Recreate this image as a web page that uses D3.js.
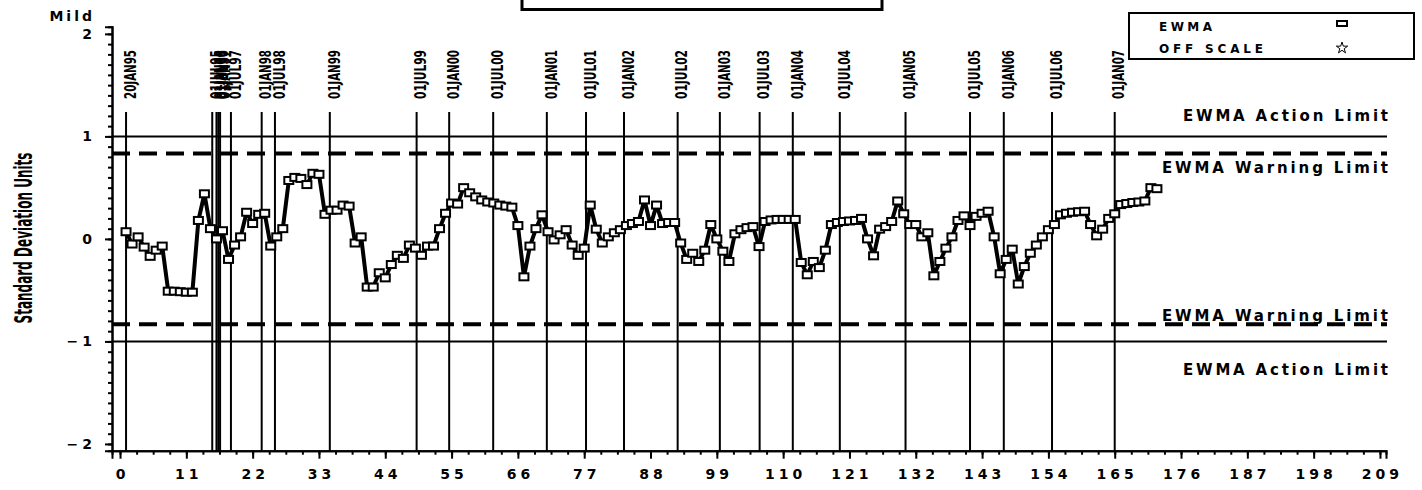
<!DOCTYPE html>
<meta charset="utf-8">
<style>
body { margin: 0; background: #fff; }
svg text { fill: #000; }
.tick text, .lab { font-family: "DejaVu Sans", sans-serif; font-weight: bold; }
.date { font-family: "Liberation Sans Narrow", "DejaVu Sans Condensed", sans-serif; font-weight: bold; }
.axis path, .axis line { stroke: #000; stroke-width: 2px; }
</style>
<body>
<script src="https://cdn.jsdelivr.net/npm/d3@7"></script>
<script>
// EWMA values, one per observation (obs 1..172)
var ewma = [
  0.07, -0.05, 0.02, -0.08, -0.17, -0.11, -0.07, -0.51, -0.51, -0.515,
  -0.52, -0.52, 0.18, 0.44, 0.10, 0.00, 0.08, -0.20, -0.06, 0.02,
  0.26, 0.15, 0.24, 0.25, -0.07, 0.02, 0.10, 0.57, 0.60, 0.59,
  0.53, 0.64, 0.63, 0.24, 0.28, 0.28, 0.33, 0.32, -0.04, 0.02,
  -0.47, -0.47, -0.33, -0.38, -0.25, -0.16, -0.19, -0.06, -0.09, -0.16,
  -0.07, -0.07, 0.10, 0.25, 0.35, 0.34, 0.50, 0.45, 0.41, 0.38,
  0.36, 0.35, 0.33, 0.32, 0.31, 0.13, -0.37, -0.07, 0.10, 0.235,
  0.07, -0.01, 0.04, 0.09, -0.06, -0.16, -0.09, 0.33, 0.095, -0.04,
  0.02, 0.06, 0.09, 0.13, 0.15, 0.17, 0.38, 0.13, 0.33, 0.15,
  0.16, 0.16, -0.04, -0.20, -0.14, -0.22, -0.11, 0.14, 0.00, -0.12,
  -0.22, 0.05, 0.09, 0.11, 0.12, -0.075, 0.17, 0.185, 0.19, 0.19,
  0.19, 0.19, -0.23, -0.35, -0.22, -0.28, -0.11, 0.14, 0.16, 0.17,
  0.175, 0.18, 0.20, 0.00, -0.165, 0.095, 0.12, 0.17, 0.37, 0.245,
  0.14, 0.14, 0.02, 0.06, -0.36, -0.22, -0.09, 0.02, 0.18, 0.225,
  0.13, 0.22, 0.25, 0.27, 0.02, -0.34, -0.20, -0.10, -0.44, -0.27,
  -0.14, -0.06, 0.02, 0.09, 0.14, 0.235, 0.25, 0.26, 0.265, 0.27,
  0.14, 0.03, 0.095, 0.20, 0.245, 0.335, 0.345, 0.355, 0.36, 0.37,
  0.50, 0.49
];

// date reference lines (position on observation axis) and their labels
var datePos = [1, 15.3, 16.0, 16.3, 16.6, 18.4, 23.5, 25.7, 34.8, 49.2, 54.6, 61.9,
  70.8, 77.3, 83.6, 92.5, 99.5, 106.1, 111.6, 119.4, 130.3, 141, 146.6, 154.6, 165];
var dateLab = ["20JAN95", "01JUL95", "01JAN96", "01JUL96", "01JAN97", "01JUL97",
  "01JAN98", "01JUL98", "01JAN99", "01JUL99", "01JAN00", "01JUL00", "01JAN01",
  "01JUL01", "01JAN02", "01JUL02", "01JAN03", "01JUL03", "01JAN04", "01JUL04",
  "01JAN05", "01JUL05", "01JAN06", "01JUL06", "01JAN07"];

// control limits
var actionLimit = 1, warningLimit = 0.833;

var xTicks = d3.range(0, 210, 11);
var xMinor = d3.range(0, 210, 2.75);
var yTicks = [-2, -1, 0, 1, 2];
var yMinor = d3.range(-20, 21).map(function(d) { return d / 10; });

var W = 1422, H = 490;
var svg = d3.select("body").append("svg")
    .attr("width", W).attr("height", H);

var x = d3.scaleLinear().domain([-1.33, 210]).range([112, 1386]);
var y = d3.scaleLinear().domain([-2.066, 2.07]).range([450.7, 26.7]);

// title box (clipped at top)
svg.append("rect")
    .attr("x", 522).attr("y", -10).attr("width", 360).attr("height", 19.5)
    .attr("fill", "none").attr("stroke", "#000").attr("stroke-width", 3);

// vertical date lines
svg.selectAll(".dline").data(datePos).enter().append("line")
    .attr("x1", function(d) { return x(d); }).attr("x2", function(d) { return x(d); })
    .attr("y1", 112).attr("y2", y.range()[0])
    .attr("stroke", "#000").attr("stroke-width", 2);

svg.selectAll(".date").data(datePos).enter().append("text")
    .attr("class", "date")
    .style("font-size", "16px")
    .attr("transform", function(d) { return "translate(" + (x(d) + 4) + ",99) rotate(-90)"; })
    .attr("dy", "0.36em")
    .attr("textLength", 49).attr("lengthAdjust", "spacingAndGlyphs")
    .text(function(d, i) { return dateLab[i]; });

// limit lines
var x0 = 112, x1 = 1387;
[actionLimit, -actionLimit].forEach(function(v) {
  svg.append("line").attr("x1", x0).attr("x2", x1).attr("y1", y(v)).attr("y2", y(v))
      .attr("stroke", "#000").attr("stroke-width", 2);
});
[warningLimit, -warningLimit].forEach(function(v) {
  svg.append("line").attr("x1", x0).attr("x2", x1).attr("y1", y(v)).attr("y2", y(v))
      .attr("stroke", "#000").attr("stroke-width", 4)
      .attr("stroke-dasharray", "18,9");
});

function limLabel(txt, yy, len) {
  svg.append("text").attr("class", "lab")
      .attr("x", 1388).attr("y", yy).attr("dy", "0.36em")
      .attr("text-anchor", "end")
      .attr("font-size", "15px")
      .attr("textLength", len).attr("lengthAdjust", "spacing")
      .text(txt);
}
limLabel("EWMA Action Limit", 116, 205);
limLabel("EWMA Warning Limit", 168, 226);
limLabel("EWMA Warning Limit", 316, 226);
limLabel("EWMA Action Limit", 370, 205);

// EWMA line and markers
var pts = ewma.map(function(v, i) { return [i + 1, v]; });
svg.append("path")
    .datum(pts)
    .attr("fill", "none").attr("stroke", "#000").attr("stroke-width", 4)
    .attr("stroke-linejoin", "round")
    .attr("d", d3.line().x(function(d) { return x(d[0]); }).y(function(d) { return y(d[1]); }));

svg.selectAll(".pt").data(pts).enter().append("rect")
    .attr("x", function(d) { return x(d[0]) - 4.5; })
    .attr("y", function(d) { return y(d[1]) - 3.5; })
    .attr("width", 9).attr("height", 7)
    .attr("fill", "#fff").attr("stroke", "#000").attr("stroke-width", 2);

// axes
var gx = svg.append("g").attr("class", "axis")
    .attr("transform", "translate(0," + y.range()[0] + ")");
gx.call(d3.axisBottom(x).tickValues(xMinor).tickSize(4).tickFormat(""));
var gx2 = svg.append("g").attr("class", "axis")
    .attr("transform", "translate(0," + y.range()[0] + ")");
gx2.call(d3.axisBottom(x).tickValues(xTicks).tickSize(8).tickPadding(10).tickFormat(d3.format("d")));
gx2.selectAll(".tick text").attr("font-size", "14px").attr("letter-spacing", "4px").attr("dx", "2px");

var gy = svg.append("g").attr("class", "axis")
    .attr("transform", "translate(" + x.range()[0] + ",0)");
gy.call(d3.axisLeft(y).tickValues(yMinor).tickSize(4).tickFormat(""));
var gy2 = svg.append("g").attr("class", "axis")
    .attr("transform", "translate(" + x.range()[0] + ",0)");
gy2.call(d3.axisLeft(y).tickValues(yTicks).tickSize(7).tickPadding(9).tickFormat(d3.format("d")));
gy2.selectAll(".tick text").attr("font-size", "14px").attr("letter-spacing", "4px");

svg.append("text").attr("class", "lab")
    .attr("x", 95).attr("y", 16).attr("dy", "0.36em")
    .attr("text-anchor", "end").attr("font-size", "14px").attr("letter-spacing", "3px")
    .text("Mild");

svg.append("text").attr("class", "date")
    .style("font-size", "24px")
    .attr("transform", "translate(23,238) rotate(-90)")
    .attr("dy", "0.36em")
    .attr("text-anchor", "middle")
    .attr("textLength", 171).attr("lengthAdjust", "spacingAndGlyphs")
    .text("Standard Deviation Units");

// legend
svg.append("rect")
    .attr("x", 1129).attr("y", 13).attr("width", 285).attr("height", 46)
    .attr("fill", "#fff").attr("stroke", "#000").attr("stroke-width", 2);
svg.append("text").attr("class", "lab")
    .attr("x", 1159).attr("y", 27).attr("dy", "0.36em")
    .attr("font-size", "12px").attr("textLength", 53).attr("lengthAdjust", "spacing")
    .text("EWMA");
svg.append("text").attr("class", "lab")
    .attr("x", 1159).attr("y", 49).attr("dy", "0.36em")
    .attr("font-size", "12px").attr("textLength", 104).attr("lengthAdjust", "spacing")
    .text("OFF SCALE");
svg.append("rect")
    .attr("x", 1337).attr("y", 21).attr("width", 10).attr("height", 5)
    .attr("fill", "#fff").attr("stroke", "#000").attr("stroke-width", 2);
svg.append("path")
    .attr("transform", "translate(1342,48)")
    .attr("d", d3.symbol().type(d3.symbolStar).size(40)())
    .attr("fill", "none").attr("stroke", "#000").attr("stroke-width", 1);
</script>
</body>
